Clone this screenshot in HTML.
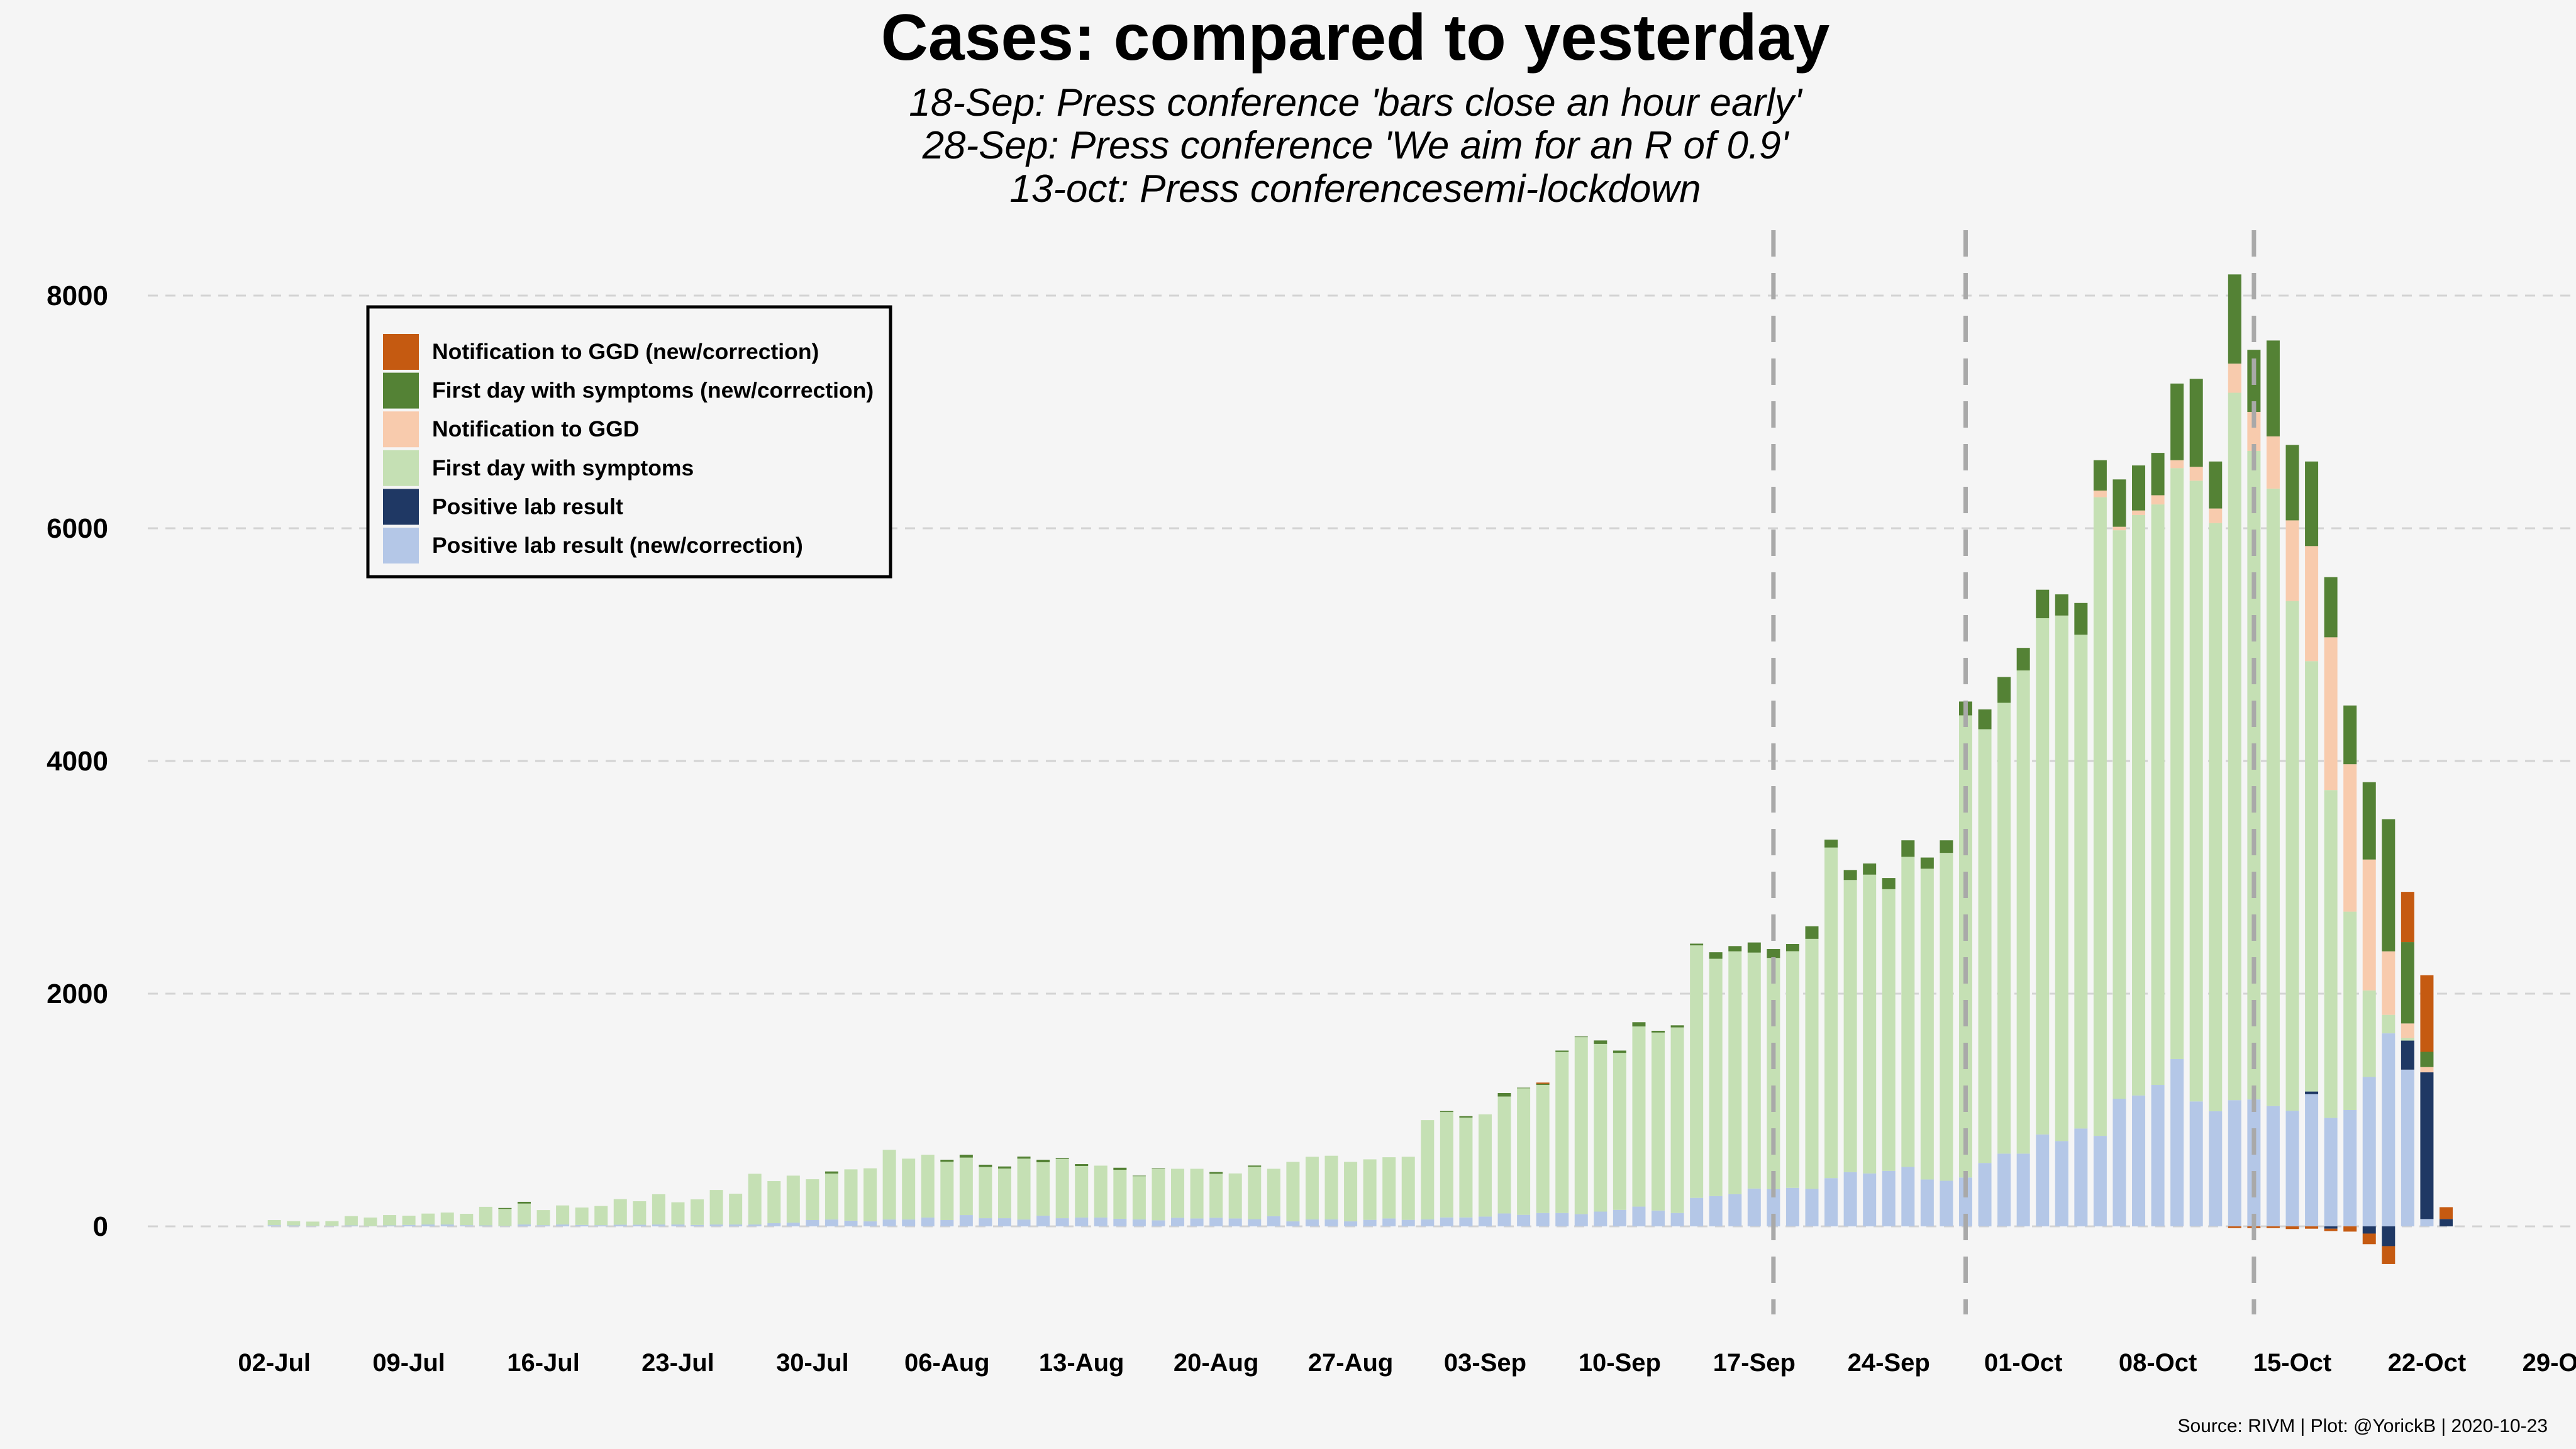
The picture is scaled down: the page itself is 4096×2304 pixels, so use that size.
<!DOCTYPE html>
<html><head><meta charset="utf-8">
<style>
html,body{margin:0;padding:0;background:#f5f5f5;}
svg{display:block;font-family:"Liberation Sans",Arial,sans-serif;}
</style></head>
<body>
<svg id="chart" width="4096" height="2304" viewBox="0 0 4096 2304" xmlns="http://www.w3.org/2000/svg">
<rect x="0" y="0" width="4096" height="2304" fill="#f5f5f5"/>
<text x="2155" y="95" font-size="104" font-weight="bold" text-anchor="middle" fill="#000">Cases: compared to yesterday</text>
<text x="2155" y="184" font-size="62" font-style="italic" text-anchor="middle" fill="#000">18-Sep: Press conference 'bars close an hour early'</text>
<text x="2155" y="252" font-size="62" font-style="italic" text-anchor="middle" fill="#000">28-Sep: Press conference 'We aim for an R of 0.9'</text>
<text x="2155" y="321" font-size="62" font-style="italic" text-anchor="middle" fill="#000">13-oct: Press conferencesemi-lockdown</text>
<g id="grid"></g>
<g id="bars"></g>
<g id="vlines"></g>
<g id="axes"></g>
<g id="legend">
<rect x="585" y="488" width="831" height="429" fill="#f5f5f5" stroke="#000" stroke-width="5"/>
</g>
<text x="4051" y="2277" font-size="30" text-anchor="end" fill="#000">Source: RIVM | Plot: @YorickB |  2020-10-23</text>
</svg>
<script>
const NS="http://www.w3.org/2000/svg";
// ---- data ----
const totalsEarly=[54,45,41,45,88,76,97,92,110,119,108,168,158,211,140,180,162,175,234,216,276,207,232,313,281,452,389,436,405,472,490,499,658,582,616,573,616,530,515,600,573,587,535,522,504,436,499,495,495,467,455,523,495,554,598,607,554,576,594,598,913,991,947,963,1146,1192,1226,1511,1632,1598,1511,1755,1681,1728,2430,2356,2409,2440,2384,2427,2579];
const blueEarly=[10,8,5,5,8,3,8,12,16,16,10,8,5,16,10,16,12,10,14,14,16,16,12,16,16,16,27,32,54,59,49,43,59,59,76,54,97,70,70,59,92,70,76,76,65,60,52,74,68,74,68,62,87,43,60,60,43,56,68,56,60,77,77,84,111,99,115,115,105,127,142,170,136,115,245,260,276,325,319,331,322];
const dgreenEarly=[0,0,0,0,0,0,0,0,0,0,0,0,8,15,0,0,0,0,0,0,0,0,0,0,0,0,0,0,0,18,0,0,0,0,0,18,25,20,18,18,22,8,16,0,18,5,5,0,0,15,0,10,0,0,0,0,0,0,0,0,0,8,12,0,30,5,10,12,6,30,20,37,15,18,15,56,45,87,77,62,108];
const orangeEarly=[0,0,0,0,0,0,0,0,0,0,0,0,0,0,0,0,0,0,0,0,0,0,0,0,0,0,0,0,0,0,0,0,0,0,0,0,0,0,0,0,0,0,0,0,0,0,0,0,0,0,0,0,0,0,0,0,0,0,0,0,0,0,0,0,0,0,10,0,0,0,0,0,0,0,0,0,0,0,0,0,0];
const blueLate=[415,466,455,477,511,403,392,420,545,625,625,790,733,841,778,1097,1125,1216,1438,1074,989,1085,1091,1034,994,1136,932,1000,1284,1659,1347,63,0];
const navyLate=[0,0,0,0,0,0,0,0,0,0,0,0,0,0,0,0,0,0,0,0,0,0,0,0,0,23,0,0,0,0,250,1261,63];
const lgreenLate=[2841,2511,2568,2421,2665,2671,2818,3972,3728,3875,4153,4437,4517,4244,5489,4886,4989,4989,5079,5335,5056,6080,5574,5307,4381,3699,2818,1705,744,159,22,0,0];
const peachLate=[0,0,0,0,0,0,0,0,0,0,0,0,0,0,57,30,39,79,68,119,125,250,335,449,693,989,1313,1267,1125,546,125,45,0];
const dgreenLate=[68,86,96,96,142,96,108,119,170,222,194,245,182,273,261,407,387,364,659,756,404,767,534,824,648,727,517,505,665,1136,699,131,0];
const orangeLate=[0,0,0,0,0,0,0,0,0,0,0,0,0,0,0,0,0,0,0,0,0,0,0,0,0,0,0,0,0,0,432,659,102];
const navyNegLate=[0,0,0,0,0,0,0,0,0,0,0,0,0,0,0,0,0,0,0,0,0,0,0,0,0,0,-20,0,-62,-170,0,0,0];
const orangeNegLate=[0,0,0,0,0,0,0,0,0,0,0,0,0,0,0,0,0,0,0,0,0,-15,-15,-15,-23,-20,-20,-45,-91,-154,0,0,0];
const yTicks=[0,2000,4000,6000,8000];
const xTickLabels=["02-Jul","09-Jul","16-Jul","23-Jul","30-Jul","06-Aug","13-Aug","20-Aug","27-Aug","03-Sep","10-Sep","17-Sep","24-Sep","01-Oct","08-Oct","15-Oct","22-Oct","29-Oct"];
const eventDays=[78,88,103];
// ---- scales ----
const x=i=>436.2+30.56*i;
const y=v=>1950-v*0.185;
const C={blue:"#b4c7e7",navy:"#1f3864",lg:"#c5e0b4",peach:"#f8cbad",dg:"#548235",or:"#c55a11"};
function el(tag,attrs,parent){const e=document.createElementNS(NS,tag);for(const k in attrs)e.setAttribute(k,attrs[k]);parent.appendChild(e);return e;}
// grid
const grid=document.getElementById('grid');
yTicks.forEach(t=>{
 const l=el('line',{x1:235,x2:4096,y1:y(t),y2:y(t),stroke:"#d3d3d3","stroke-width":3,"stroke-dasharray":"16 12"},grid);
 
 
});
// series rows
const rows=[];
for(let i=0;i<totalsEarly.length;i++){
 const lg=totalsEarly[i]-blueEarly[i]-dgreenEarly[i];
 rows.push({blue:blueEarly[i],navy:0,lg:lg,peach:0,dg:dgreenEarly[i],or:orangeEarly[i],nn:0,no:0});
}
for(let j=0;j<blueLate.length;j++){
 rows.push({blue:blueLate[j],navy:navyLate[j],lg:lgreenLate[j],peach:peachLate[j],dg:dgreenLate[j],or:orangeLate[j],nn:navyNegLate[j],no:orangeNegLate[j]});
}
const bars=document.getElementById('bars');
const bw=21;
rows.forEach((r,i)=>{
 const g=el('g',{},bars);
 
 
 let cum=0;
 [['blue','blue'],['navy','navy'],['lg','lg'],['peach','peach'],['dg','dg'],['or','or']].forEach(([k,c])=>{
  const v=r[k]; if(v<=0) return;
  const r1=el('rect',{x:x(i)-bw/2,y:y(cum+v),width:bw,height:y(cum)-y(cum+v),fill:C[c]},g);
  
  
  cum+=v;
 });
 let neg=0;
 [['nn','navy'],['no','or']].forEach(([k,c])=>{
  const v=r[k]; if(v>=0) return;
  const r2=el('rect',{x:x(i)-bw/2,y:y(neg),width:bw,height:y(neg+v)-y(neg),fill:C[c]},g);
  
  
  neg+=v;
 });
});
// event lines
const vl=document.getElementById('vlines');
eventDays.forEach(d=>{
 const l=el('line',{x1:x(d),x2:x(d),y1:366,y2:2090,stroke:"#a9a9a9","stroke-width":7,"stroke-dasharray":"42 26"},vl);
 
 
});
// axes labels
const ax=document.getElementById('axes');
yTicks.forEach(t=>{
 const tx=el('text',{x:172,y:y(t)+15,"font-size":44,"font-weight":"bold","text-anchor":"end",fill:"#000"},ax);
 tx.textContent=t;
 
 
});
xTickLabels.forEach((lab,k)=>{
 const tx=el('text',{x:x(k*7),y:2180,"font-size":40,"font-weight":"bold","text-anchor":"middle",fill:"#000"},ax);
 tx.textContent=lab;
 
 
});
// legend
const lgd=document.getElementById('legend');
const legendItems=[["Notification to GGD (new/correction)",C.or],["First day with symptoms (new/correction)",C.dg],["Notification to GGD",C.peach],["First day with symptoms",C.lg],["Positive lab result",C.navy],["Positive lab result (new/correction)",C.blue]];
legendItems.forEach((it,k)=>{
 const cy=559+k*61.6;
 const g=el('g',{},lgd);
 
 
 el('rect',{x:609,y:cy-28,width:57,height:57,fill:it[1]},g);
 const t=el('text',{x:687,y:cy+12,"font-size":35.5,"font-weight":"bold",fill:"#000"},g);
 t.textContent=it[0];
});
</script>
</body></html>
